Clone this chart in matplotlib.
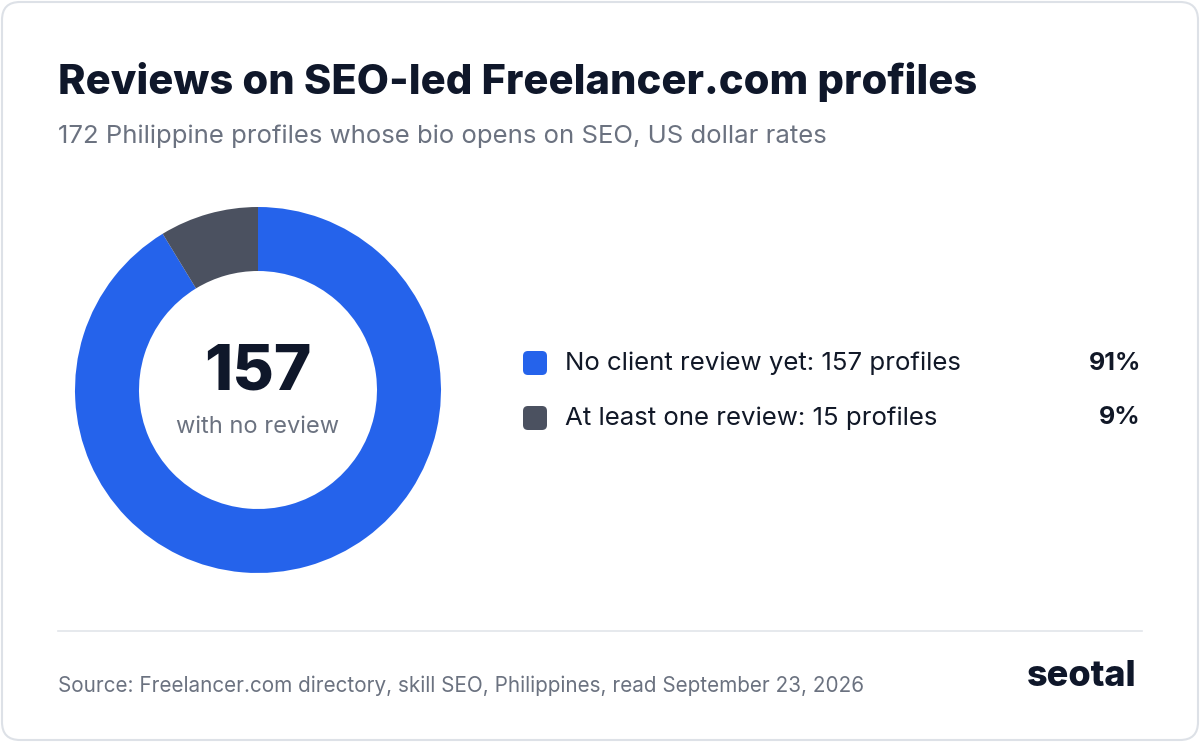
import matplotlib
matplotlib.use("Agg")
import matplotlib.pyplot as plt
from matplotlib.patches import FancyBboxPatch

labels = ["No client review yet: 157 profiles", "At least one review: 15 profiles"]
values = [157, 15]
pcts = ["91%", "9%"]
colors = ["#2563EB", "#4B5160"]

W, H = 1200, 742
fig = plt.figure(figsize=(W/100, H/100), dpi=100)
fig.patch.set_facecolor("white")
bg = fig.add_axes([0, 0, 1, 1]); bg.set_xlim(0, W); bg.set_ylim(H, 0); bg.axis("off")
bg.add_patch(FancyBboxPatch((2, 2), W-4, H-4, boxstyle="round,pad=0,rounding_size=18",
                            fc="white", ec="#DDE1E7", lw=1.5))
fam = ["Inter", "DejaVu Sans"]
bg.text(58, 82, "Reviews on SEO-led Freelancer.com profiles", fontsize=30, fontweight="heavy",
        color="#0F172A", va="center", family=fam)
bg.text(58, 136, "172 Philippine profiles whose bio opens on SEO, US dollar rates", fontsize=18.5,
        color="#6B7280", va="center", family=fam)
bg.plot([58, 1142], [631, 631], color="#E2E5EA", lw=1.2)
bg.text(58, 686, "Source: Freelancer.com directory, skill SEO, Philippines, read September 23, 2026",
        fontsize=14.9, color="#6B7280", va="center", family=fam)
bg.text(1137, 677, "seotal", fontsize=26, fontweight="heavy", color="#0F172A", va="center", ha="right", family=fam)

ys = [363, 418]
for y, lab, p, c in zip(ys, labels, pcts, colors):
    bg.add_patch(FancyBboxPatch((523, y-12), 24, 24, boxstyle="round,pad=0,rounding_size=5", fc=c, ec="none"))
    bg.text(565, y, lab, fontsize=18.6, color="#111827", va="center", family=fam)
    bg.text(1141, y, p, fontsize=18, fontweight="bold", color="#111827", va="center", ha="right", family=fam)

cx, cy, R = 258, 390, 183
ax = fig.add_axes([(cx-R)/W, 1-(cy+R)/H, 2*R/W, 2*R/H])
ax.pie(values, colors=colors, startangle=90, counterclock=False,
       wedgeprops=dict(width=64/183, edgecolor="none"), radius=1)
ax.set_xlim(-1, 1); ax.set_ylim(-1, 1); ax.set_aspect("equal"); ax.axis("off")
bg.text(cx, 373, "157", fontsize=46, fontweight="heavy", color="#0F172A", ha="center", va="center", family=fam)
bg.text(cx, 427, "with no review", fontsize=17, color="#6B7280", ha="center", va="center", family=fam)
fig.savefig("out.png", dpi=100, facecolor="white")
